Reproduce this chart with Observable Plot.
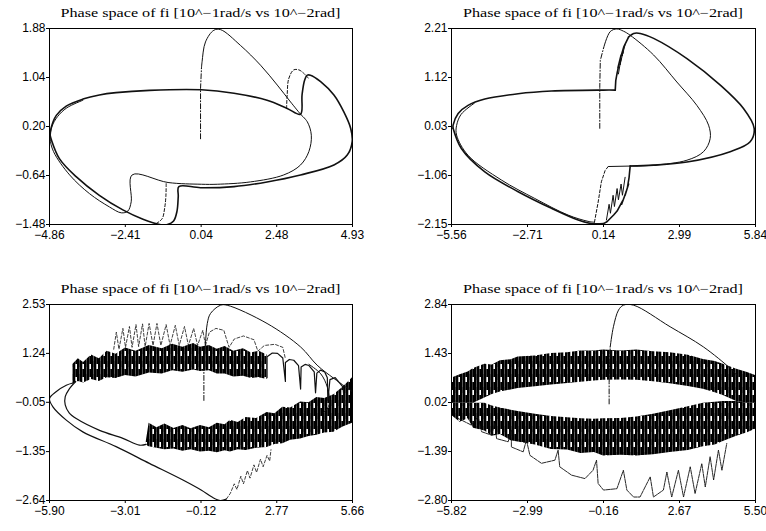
<!DOCTYPE html>
<html><head><meta charset="utf-8">
<script src="https://cdn.jsdelivr.net/npm/d3@7"></script>
<script src="https://cdn.jsdelivr.net/npm/@observablehq/plot@0.6"></script>
<style>
body{margin:0;background:#fff;}
#wrap{position:relative;width:766px;height:531px;overflow:hidden;background:#fff;}
.panel{position:absolute;width:383px;}
</style></head><body>
<svg width="0" height="0" style="position:absolute">
  <defs>
    <pattern id="vhatch" patternUnits="userSpaceOnUse" width="7" height="13">
      <rect x="0" y="0" width="2.6" height="13" fill="#000"/>
      <rect x="2.9" y="0" width="2.4" height="13" fill="#000"/>
      <rect x="5.3" y="0" width="1.7" height="8" fill="#000"/>
      <rect x="2.6" y="5" width="0.3" height="6" fill="#000"/>
    </pattern>
  </defs>
</svg>
<div id="wrap"></div>
<script>
const titleText = "Phase space of fi [10^−1rad/s vs 10^−2rad]";

// ---------- Panel 1 (top-left) ----------
const p1XTicks = [-4.86, -2.41, 0.04, 2.48, 4.93];
const p1YTicks = [-1.48, -0.64, 0.20, 1.04, 1.88];
const p1Start = [[0.02,-0.01],[0.02,0.85],[0.05,1.2]];
const p1Swing = [[0.05,1.2],[0.07,1.31],[0.18,1.65],[0.45,1.85],[0.67,1.86],[1.31,1.59],[1.96,1.25],[2.5,0.91],[2.93,0.62],[3.25,0.41]];
const p1Outer = [[-4.84,0.05],[-4.81,0.17],[-4.64,0.39],[-4.32,0.55],[-3.78,0.67],[-3.25,0.74],[-2.71,0.78],[-1.63,0.82],[0.05,0.83],[1.1,0.77],[2.17,0.65],[2.82,0.51],[3.25,0.41],[3.3,0.74],[3.38,0.99],[3.47,1.08],[3.57,1.08],[3.9,0.97],[4.33,0.74],[4.65,0.45],[4.87,0.17],[4.92,-0.06],[4.76,-0.29],[4.33,-0.46],[3.25,-0.63],[2.17,-0.75],[1.1,-0.83],[0.02,-0.85],[-0.68,-0.83],[-0.7,-1.0],[-0.74,-1.25],[-0.85,-1.42],[-1.05,-1.48],[-1.3,-1.48],[-1.84,-1.39],[-2.49,-1.23],[-3.25,-0.98],[-4.0,-0.66],[-4.54,-0.35],[-4.81,-0.01],[-4.84,0.05]];
const p1Inner = [[3.25,0.41],[3.47,0.28],[3.6,0.05],[3.52,-0.23],[3.25,-0.46],[2.71,-0.63],[1.63,-0.75],[0.56,-0.79],[0.05,-0.79],[-1.03,-0.76],[-2.19,-0.63],[-2.22,-1.09],[-2.33,-1.25],[-2.54,-1.28],[-2.92,-1.18],[-3.57,-0.95],[-4.21,-0.63],[-4.73,-0.23],[-4.84,0.0],[-4.78,0.2],[-4.6,0.37],[-4.3,0.52],[-3.78,0.65]];
const p1Hook = [[2.8,0.51],[2.82,0.75],[2.87,1.02],[3.03,1.17],[3.2,1.17],[3.36,1.11],[3.5,1.03]];
const p1Drop = [[-1.09,-0.78],[-1.1,-1.0],[-1.14,-1.2],[-1.22,-1.38],[-1.4,-1.46]];

// ---------- Panel 2 (top-right) ----------
const p2XTicks = [-5.56, -2.71, 0.14, 2.99, 5.84];
const p2YTicks = [-2.15, -1.06, 0.03, 1.12, 2.21];
const p2Start = [[0.0,-0.01],[0.0,0.9],[0.02,1.5],[0.14,1.77]];
const p2Swing = [[0.14,1.77],[0.39,2.14],[0.64,2.2],[0.89,2.15],[1.14,2.06],[2.02,1.62],[2.89,1.02],[3.64,0.5],[4.08,0.06],[4.14,-0.24],[3.89,-0.53],[3.27,-0.72],[2.02,-0.83],[1.14,-0.85]];
const p2Flat = [[1.14,-0.85],[0.33,-0.86]];
const p2OuterA = [[-5.5,-0.01],[-5.5,0.06],[-5.31,0.32],[-4.94,0.5],[-4.31,0.64],[-3.06,0.76],[-1.81,0.82],[0.14,0.84],[0.58,0.84]];
const p2JagHigh = [[0.58,0.84],[0.6,1.05],[0.66,1.25],[0.63,1.15],[0.72,1.42],[0.68,1.33],[0.8,1.62],[0.76,1.52],[0.9,1.8],[1.08,2.02]];
const p2OuterB = [[1.08,2.02],[1.27,2.1],[1.52,2.1],[2.02,1.99],[3.27,1.54],[4.52,0.95],[5.39,0.43],[5.79,-0.01],[5.64,-0.31],[4.89,-0.53],[3.27,-0.76],[2.02,-0.83],[1.14,-0.85]];
const p2JagLow = [[1.14,-0.85],[1.1,-1.1],[1.04,-1.32],[1.08,-1.25],[0.95,-1.5],[0.99,-1.42],[0.82,-1.7],[0.86,-1.62],[0.65,-1.85],[0.52,-1.94],[0.27,-2.09],[0.14,-2.13]];
const p2OuterC = [[0.14,-2.13],[-0.31,-2.13],[-0.81,-2.05],[-1.81,-1.79],[-3.06,-1.42],[-4.31,-0.98],[-5.19,-0.46],[-5.5,-0.01]];
const p2Inner = [[-4.7,0.55],[-5.2,0.3],[-5.37,0.05],[-5.37,-0.16],[-4.94,-0.61],[-3.69,-1.16],[-2.44,-1.57],[-1.19,-1.94],[-0.44,-2.08],[-0.2,-2.1]];
const p2Rise = [[-0.2,-2.1],[-0.06,-1.65],[0.06,-1.2],[0.2,-0.95],[0.33,-0.85]];
const p2Zig = [[0.25,-2.05],[0.35,-1.7],[0.4,-1.9],[0.5,-1.5],[0.55,-1.75],[0.65,-1.35],[0.7,-1.6],[0.8,-1.25],[0.85,-1.5],[0.95,-1.1]];
const p2Zig2 = [[0.7,1.2],[0.8,1.55],[0.76,1.4],[0.88,1.7],[0.84,1.6],[0.95,1.85]];

// ---------- Panel 3 (bottom-left) ----------
const p3XTicks = [-5.90, -3.01, -0.12, 2.77, 5.66];
const p3YTicks = [-2.64, -1.35, -0.05, 1.24, 2.53];
const p3Outer = [[-5.01,0.46],[-5.26,0.4],[-5.65,0.23],[-5.9,0.05],[-5.77,-0.17],[-5.26,-0.52],[-4.63,-0.83],[-3.36,-1.22],[-2.09,-1.66],[-0.81,-2.1],[-0.1,-2.37],[0.3,-2.55],[0.62,-2.64],[0.85,-2.6]];
const p3Inner = [[-4.9,0.5],[-5.15,0.3],[-5.3,0.1],[-5.3,-0.12],[-5.15,-0.33],[-4.88,-0.48],[-3.99,-0.79],[-3.1,-1.0],[-2.47,-1.18],[-2.21,-1.16]];
const p3Start = [[-0.01,0.0],[-0.01,0.8]];
const p3Swing = [[-0.01,0.8],[0.05,1.5],[0.12,2.03],[0.24,2.29],[0.62,2.51],[0.88,2.51],[2.4,2.03],[3.68,1.41],[4.31,0.93],[4.95,0.58],[5.66,0.23]];
const p3Spikes = [[-3.45,1.35],[-3.35,1.8],[-3.25,1.35],[-3.1,1.9],[-3.0,1.4],[-2.85,1.95],[-2.75,1.4],[-2.6,2.0],[-2.5,1.42],[-2.35,2.02],[-2.25,1.42],[-2.1,2.03],[-1.95,1.45],[-1.8,2.03],[-1.65,1.45],[-1.45,2.0],[-1.3,1.45],[-1.1,1.98],[-0.95,1.45],[-0.75,1.95],[-0.6,1.45],[-0.4,1.9],[-0.25,1.45],[-0.05,1.85],[0.05,1.45]];
const p3Arcs = [[0.05,1.45],[0.2,1.8],[0.45,1.9],[0.75,1.85],[0.95,1.4],[1.15,1.62],[1.5,1.7],[1.9,1.6],[2.05,1.3],[2.3,1.45],[2.7,1.48],[3.0,1.4],[3.1,1.1]];
const p3Scallops = [[2.4,0.6],[2.4,1.15],[2.6,1.25],[2.8,1.24],[3.0,1.12],[3.1,0.5],[3.1,1.0],[3.25,1.08],[3.42,1.06],[3.6,0.92],[3.68,0.3],[3.7,0.88],[3.85,0.95],[4.0,0.92],[4.2,0.75],[4.25,0.2],[4.3,0.72],[4.45,0.8],[4.6,0.75],[4.7,0.6],[4.72,0.0],[4.8,0.55],[5.0,0.6],[5.3,0.35],[5.35,-0.1]];
const p3InnerRight = [[4.0,0.95],[4.45,0.7],[4.7,0.35],[4.78,0.0],[4.72,-0.2],[4.55,-0.32]];
const p3BotZig = [[0.85,-2.6],[1.0,-2.45],[1.15,-2.2],[1.25,-2.35],[1.4,-2.0],[1.5,-2.2],[1.65,-1.85],[1.75,-2.05],[1.9,-1.7],[2.0,-1.9],[2.15,-1.55],[2.25,-1.75],[2.4,-1.45],[2.5,-1.6],[2.55,-1.3]];
const p3UpX   = [-5.01, -4.8, -4.6, -4.3, -4.0, -3.7, -3.36, -3.0, -2.6, -2.09, -1.6, -1.2, -0.81, -0.4, -0.14, 0.2, 0.5, 0.8, 1.13, 1.5, 1.8, 2.1, 2.4];
const p3UpTop = [0.95, 1.1, 1.0, 1.2, 1.1, 1.3, 1.22, 1.38, 1.3, 1.45, 1.36, 1.48, 1.4, 1.5, 1.4, 1.45, 1.35, 1.42, 1.3, 1.36, 1.25, 1.3, 1.2];
const p3UpBot = [0.42, 0.5, 0.46, 0.55, 0.5, 0.6, 0.58, 0.66, 0.62, 0.72, 0.7, 0.78, 0.74, 0.8, 0.76, 0.78, 0.7, 0.7, 0.62, 0.64, 0.58, 0.6, 0.55];
const p3LowX   = [-2.21, -2.1, -1.8, -1.5, -1.15, -0.81, -0.5, -0.14, 0.2, 0.5, 0.8, 1.0, 1.3, 1.6, 2.0, 2.4, 2.7, 3.0, 3.3, 3.68, 4.0, 4.3, 4.6, 4.95, 5.3, 5.66];
const p3LowTop = [-1.1, -0.6, -0.72, -0.62, -0.74, -0.66, -0.75, -0.66, -0.72, -0.6, -0.64, -0.52, -0.58, -0.45, -0.48, -0.32, -0.35, -0.18, -0.2, -0.04, -0.06, 0.08, 0.05, 0.15, 0.35, 0.6];
const p3LowBot = [-1.18, -1.22, -1.26, -1.3, -1.28, -1.34, -1.3, -1.36, -1.34, -1.38, -1.33, -1.36, -1.3, -1.32, -1.26, -1.24, -1.16, -1.14, -1.05, -1.02, -0.95, -0.92, -0.86, -0.84, -0.7, -0.6];

// ---------- Panel 4 (bottom-right) ----------
const p4XTicks = [-5.82, -2.99, -0.16, 2.67, 5.50];
const p4YTicks = [-2.80, -1.39, 0.02, 1.43, 2.84];
const p4Start = [[0.05,-0.02],[0.05,0.6],[0.07,1.2],[0.09,1.62]];
const p4Swing = [[0.09,1.62],[0.21,2.2],[0.4,2.68],[0.58,2.82],[0.96,2.82],[2.32,2.2],[3.56,1.62],[4.56,1.0],[4.8,0.81]];
const p4Bounce = [[-5.57,-0.44],[-5.08,-0.63],[-4.83,-0.39],[-4.7,-0.82],[-4.33,-0.92],[-4.21,-0.58],[-4.14,-1.02],[-3.71,-1.11],[-3.59,-0.78],[-3.59,-1.26],[-3.15,-1.4],[-3.03,-1.06],[-2.9,-1.5],[-2.47,-1.73],[-1.97,-1.64],[-1.85,-1.35],[-1.79,-1.83],[-1.35,-2.07],[-0.85,-2.17],[-0.55,-1.93],[-0.42,-1.64],[-0.36,-2.31],[-0.16,-2.5],[0.34,-2.46],[0.58,-1.93],[0.71,-2.5],[0.96,-2.7],[1.2,-2.7],[1.58,-2.12],[1.7,-2.7],[2.07,-2.5],[2.2,-1.98],[2.38,-2.7],[2.63,-1.93],[2.82,-2.7],[3.07,-1.83],[3.25,-2.6],[3.5,-1.74],[3.63,-2.41],[3.81,-1.54],[3.94,-2.21],[4.12,-1.35],[4.25,-1.93],[4.43,-1.16]];
const p4X        = [-5.82, -5.5, -5.2, -5.0, -4.58, -4.3, -4.0, -3.6, -3.34, -2.7, -2.1, -1.5, -1.0, -0.5, -0.16, 0.5, 1.08, 1.7, 2.32, 3.0, 3.56, 4.0, 4.3, 4.8, 5.2, 5.5];
const p4OuterTop = [0.72, 0.82, 0.9, 1.0, 1.12, 1.1, 1.22, 1.25, 1.33, 1.36, 1.43, 1.45, 1.5, 1.5, 1.53, 1.5, 1.53, 1.48, 1.45, 1.38, 1.26, 1.2, 1.12, 0.98, 0.88, 0.8];
const p4HoleTop  = [0.0, 0.0, 0.0, 0.0, 0.15, 0.25, 0.32, 0.38, 0.42, 0.47, 0.52, 0.57, 0.6, 0.64, 0.66, 0.67, 0.66, 0.62, 0.56, 0.48, 0.4, 0.3, 0.22, 0.05, 0.0, 0.0];
const p4HoleBot  = [0.0, 0.0, 0.0, 0.0, 0.0, -0.08, -0.14, -0.2, -0.24, -0.32, -0.38, -0.42, -0.45, -0.46, -0.45, -0.44, -0.4, -0.32, -0.22, -0.1, 0.0, 0.03, 0.05, 0.05, 0.0, 0.0];
const p4OuterBot = [-0.35, -0.55, -0.45, -0.72, -0.8, -0.95, -0.9, -1.08, -1.12, -1.2, -1.33, -1.35, -1.45, -1.42, -1.52, -1.5, -1.52, -1.48, -1.42, -1.36, -1.25, -1.2, -1.1, -0.95, -0.85, -0.75];

function fmt(d){ return d.toFixed(2).replace("-", "\u2212"); }

function makePanel(cfg){
  const marks = [];
  for (const a of cfg.areas || []) {
    marks.push(Plot.areaY(a.x, {x: a.x, y1: a.y1, y2: a.y2, fill: "url(#vhatch)", clip: true}));
  }
  for (const l of cfg.lines) {
    marks.push(Plot.line(l.data, {x: d => d[0], y: d => d[1], stroke: "#111", strokeWidth: l.w || 1,
      strokeDasharray: l.dash, curve: l.curve || "linear", clip: true}));
  }
  marks.push(Plot.frame({stroke: "#000", strokeWidth: 1}));
  const svg = Plot.plot({
    width: 383, height: cfg.h,
    marginLeft: cfg.ml, marginRight: cfg.mr, marginTop: cfg.mt, marginBottom: cfg.mb,
    style: {fontFamily: "'Liberation Sans', Arial, sans-serif", fontSize: "12px", color: "#000", background: "transparent", overflow: "visible"},
    x: {domain: [cfg.xt[0], cfg.xt[4]], ticks: cfg.xt, tickFormat: fmt, tickSize: 3, tickPadding: 3, label: null},
    y: {domain: [cfg.yt[0], cfg.yt[4]], ticks: cfg.yt, tickFormat: fmt, tickSize: 3, tickPadding: 1, label: null},
    marks
  });
  const cx = cfg.ml + (383 - cfg.ml - cfg.mr) / 2;
  d3.select(svg).append("text")
    .attr("x", cx).attr("y", cfg.mt - 11)
    .attr("text-anchor", "middle")
    .attr("textLength", 280).attr("lengthAdjust", "spacingAndGlyphs")
    .style("font-family", "'Liberation Serif', 'DejaVu Serif', serif")
    .style("font-size", "12px").attr("fill", "#000")
    .text(titleText);
  const div = document.createElement("div");
  div.className = "panel";
  div.style.left = cfg.left + "px";
  div.style.top = cfg.top + "px";
  div.appendChild(svg);
  document.getElementById("wrap").appendChild(div);
}

const dashDot = "5,2,1,2";
const dashed = "3,2";
const smooth = "catmull-rom";

makePanel({left: 0, top: 0, h: 265, ml: 49, mr: 31, mt: 28, mb: 41, xt: p1XTicks, yt: p1YTicks,
  lines: [
    {data: p1Outer, w: 1.6, curve: smooth},
    {data: p1Inner, w: 1, curve: smooth},
    {data: p1Start, w: 1, dash: dashDot},
    {data: p1Swing, w: 1, curve: smooth},
    {data: p1Hook, w: 1, dash: dashed, curve: smooth},
    {data: p1Drop, w: 1, dash: dashed, curve: smooth}
  ]});

makePanel({left: 383, top: 0, h: 265, ml: 68, mr: 11, mt: 28, mb: 41, xt: p2XTicks, yt: p2YTicks,
  lines: [
    {data: p2OuterA, w: 1.6, curve: smooth},
    {data: p2JagHigh, w: 1.6},
    {data: p2OuterB, w: 1.6, curve: smooth},
    {data: p2JagLow, w: 1.6},
    {data: p2OuterC, w: 1.6, curve: smooth},
    {data: p2Inner, w: 1, curve: smooth},
    {data: p2Start, w: 1, dash: dashDot},
    {data: p2Swing, w: 1, curve: smooth},
    {data: p2Flat, w: 1},
    {data: p2Rise, w: 1, dash: dashed},
    {data: p2Zig, w: 1},
    {data: p2Zig2, w: 1}
  ]});

makePanel({left: 0, top: 265, h: 266, ml: 49, mr: 31, mt: 39, mb: 31, xt: p3XTicks, yt: p3YTicks,
  areas: [
    {x: p3UpX, y1: p3UpBot, y2: p3UpTop},
    {x: p3LowX, y1: p3LowBot, y2: p3LowTop}
  ],
  lines: [
    {data: p3Outer, w: 1.2, curve: smooth},
    {data: p3Inner, w: 1.2, curve: smooth},
    {data: p3Start, w: 1, dash: dashDot},
    {data: p3Swing, w: 1, curve: smooth},
    {data: p3Spikes, w: 0.8, dash: dashed},
    {data: p3Arcs, w: 0.8, dash: dashed},
    {data: p3Scallops, w: 1.2},
    {data: p3InnerRight, w: 1, curve: smooth},
    {data: p3BotZig, w: 0.8, dash: dashed}
  ]});

makePanel({left: 383, top: 265, h: 266, ml: 68, mr: 11, mt: 39, mb: 31, xt: p4XTicks, yt: p4YTicks,
  areas: [
    {x: p4X, y1: p4HoleTop, y2: p4OuterTop},
    {x: p4X, y1: p4OuterBot, y2: p4HoleBot}
  ],
  lines: [
    {data: p4Start, w: 1, dash: dashDot},
    {data: p4Swing, w: 1, curve: smooth},
    {data: p4Bounce, w: 0.9, dash: "4,1"}
  ]});
</script>
</body></html>
